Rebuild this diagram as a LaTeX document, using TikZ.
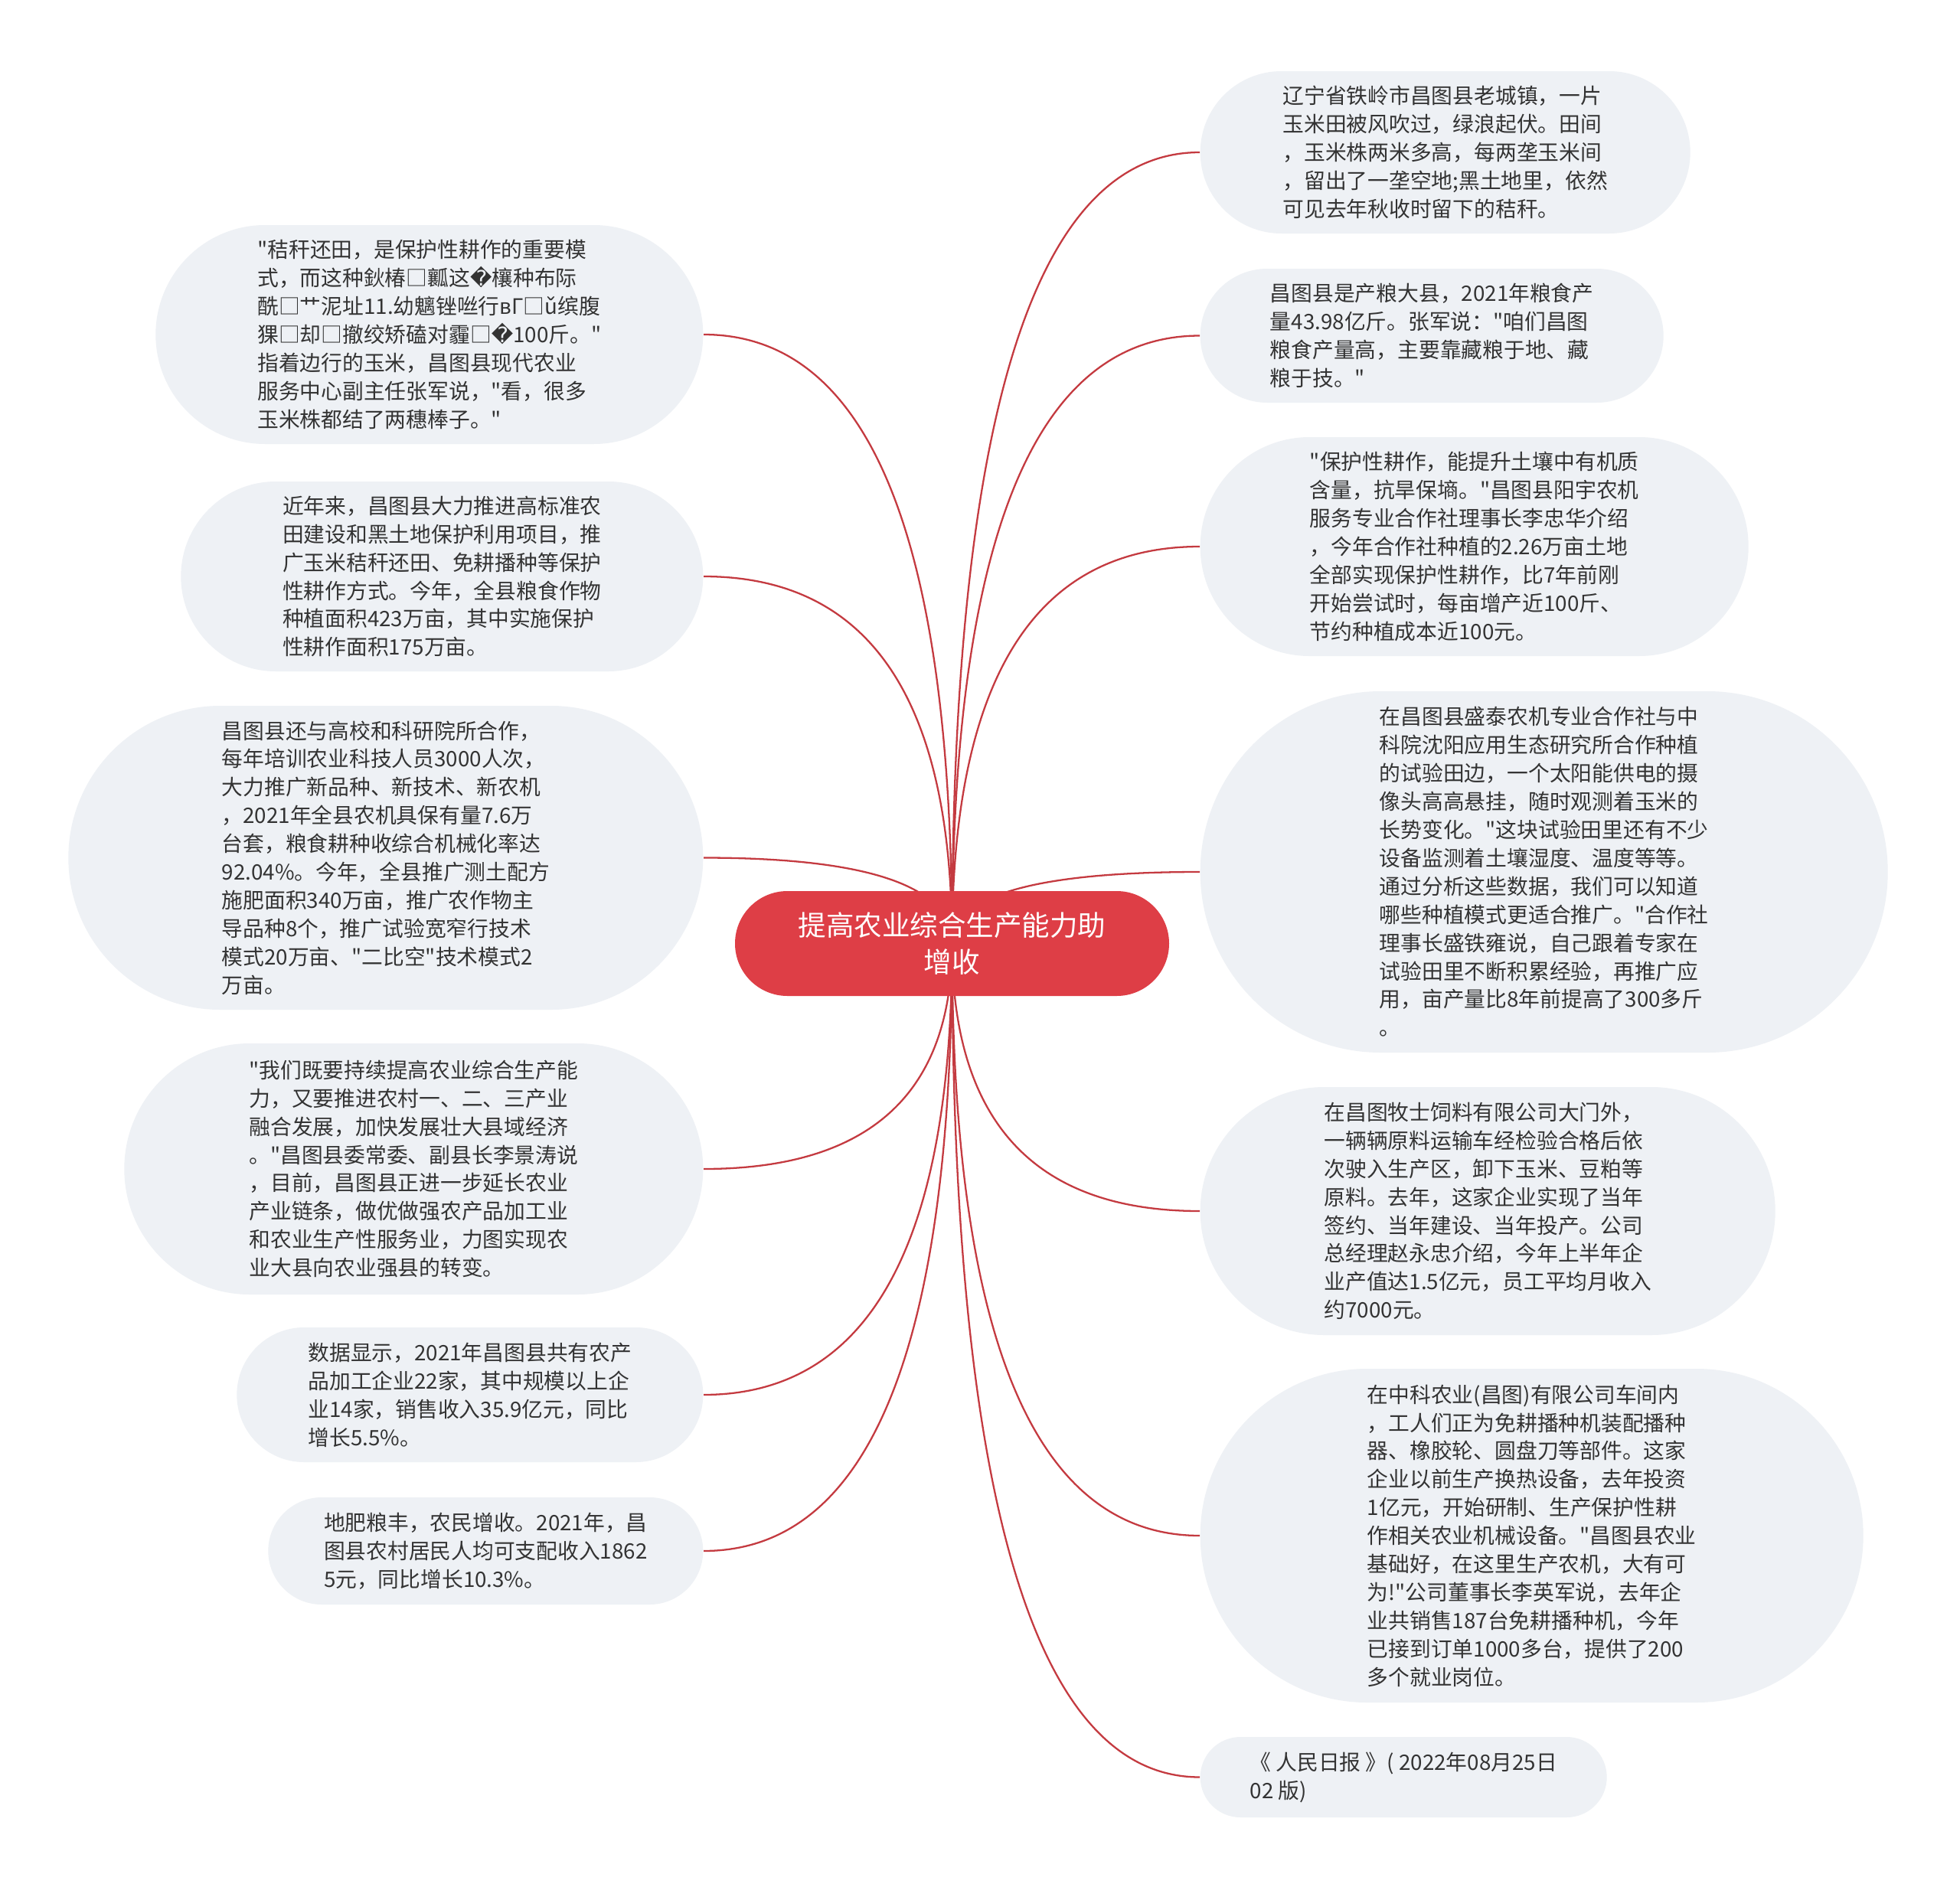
\documentclass[tikz,border=0pt]{standalone}
\usepackage{fontspec}
\newfontfamily\cjk{Noto Sans CJK SC}
\newfontfamily\symfont{DejaVu Sans}
\usepackage{xcolor}
\definecolor{hubred}{RGB}{222,62,70}
\definecolor{linkred}{RGB}{196,58,64}
\definecolor{leafbg}{RGB}{238,241,245}
\definecolor{leaftext}{RGB}{51,51,51}
\usetikzlibrary{shapes.misc,backgrounds,calc}

\begin{document}
\begin{tikzpicture}[
  hub/.style={rounded rectangle,fill=hubred,text=white,inner sep=0pt,align=center,font=\cjk\fontsize{10.4}{13.9}\selectfont},
  leaf/.style={rounded rectangle,fill=leafbg,text=leaftext,inner sep=0pt,align=left,font=\cjk\fontsize{7.9}{10.5}\selectfont},
  rleaf/.style={leaf,anchor=west},
  lleaf/.style={leaf,anchor=east},
  link/.style={linkred,line width=0.65pt}
]
  \useasboundingbox (0,0) rectangle (25.6,-24.65);

  % Centre
  \node[hub,minimum width=5.67cm,minimum height=1.37cm] (hub) at (12.435,-12.325) {提高农业综合生产能力助\\增收};

  % Right branch
  \node[rleaf,minimum width=6.40cm,minimum height=2.12cm] (r1) at (15.67,-1.99) {辽宁省铁岭市昌图县老城镇，一片\\玉米田被风吹过，绿浪起伏。田间\\，玉米株两米多高，每两垄玉米间\\，留出了一垄空地;黑土地里，依然\\可见去年秋收时留下的秸秆。};
  \node[rleaf,minimum width=6.05cm,minimum height=1.75cm] (r2) at (15.67,-4.385) {昌图县是产粮大县，2021年粮食产\\量43.98亿斤。张军说："咱们昌图\\粮食产量高，主要靠藏粮于地、藏\\粮于技。"};
  \node[rleaf,minimum width=7.16cm,minimum height=2.86cm] (r3) at (15.67,-7.14) {"保护性耕作，能提升土壤中有机质\\含量，抗旱保墒。"昌图县阳宇农机\\服务专业合作社理事长李忠华介绍\\，今年合作社种植的2.26万亩土地\\全部实现保护性耕作，比7年前刚\\开始尝试时，每亩增产近100斤、\\节约种植成本近100元。};
  \node[rleaf,minimum width=8.98cm,minimum height=4.72cm] (r4) at (15.67,-11.39) {在昌图县盛泰农机专业合作社与中\\科院沈阳应用生态研究所合作种植\\的试验田边，一个太阳能供电的摄\\像头高高悬挂，随时观测着玉米的\\长势变化。"这块试验田里还有不少\\设备监测着土壤湿度、温度等等。\\通过分析这些数据，我们可以知道\\哪些种植模式更适合推广。"合作社\\理事长盛铁雍说，自己跟着专家在\\试验田里不断积累经验，再推广应\\用，亩产量比8年前提高了300多斤\\。};
  \node[rleaf,minimum width=7.51cm,minimum height=3.24cm] (r5) at (15.67,-15.82) {在昌图牧士饲料有限公司大门外，\\一辆辆原料运输车经检验合格后依\\次驶入生产区，卸下玉米、豆粕等\\原料。去年，这家企业实现了当年\\签约、当年建设、当年投产。公司\\总经理赵永忠介绍，今年上半年企\\业产值达1.5亿元，员工平均月收入\\约7000元。};
  \node[rleaf,minimum width=8.66cm,minimum height=4.36cm] (r6) at (15.67,-20.06) {在中科农业(昌图)有限公司车间内\\，工人们正为免耕播种机装配播种\\器、橡胶轮、圆盘刀等部件。这家\\企业以前生产换热设备，去年投资\\1亿元，开始研制、生产保护性耕\\作相关农业机械设备。"昌图县农业\\基础好，在这里生产农机，大有可\\为!"公司董事长李英军说，去年企\\业共销售187台免耕播种机，今年\\已接到订单1000多台，提供了200\\多个就业岗位。};
  \node[rleaf,minimum width=5.31cm,minimum height=1.05cm] (r7) at (15.67,-23.215) {《 人民日报 》( 2022年08月25日\\02 版)};

  % Left branch
  \node[lleaf,minimum width=7.15cm,minimum height=2.86cm] (l1) at (9.19,-4.37) {"秸秆还田，是保护性耕作的重要模\\式，而这种鈥椿□瓤这{\symfont �}欀种布际\\酰□艹泥址11.幼魑锉咝行вΓ□ǔ缤腹\\猓□却□撤绞矫磕对霾□{\symfont �}100斤。"\\指着边行的玉米，昌图县现代农业\\服务中心副主任张军说，"看，很多\\玉米株都结了两穗棒子。"};
  \node[lleaf,minimum width=6.82cm,minimum height=2.48cm] (l2) at (9.19,-7.53) {近年来，昌图县大力推进高标准农\\田建设和黑土地保护利用项目，推\\广玉米秸秆还田、免耕播种等保护\\性耕作方式。今年，全县粮食作物\\种植面积423万亩，其中实施保护\\性耕作面积175万亩。};
  \node[lleaf,minimum width=8.29cm,minimum height=3.97cm] (l3) at (9.19,-11.205) {昌图县还与高校和科研院所合作，\\每年培训农业科技人员3000人次，\\大力推广新品种、新技术、新农机\\，2021年全县农机具保有量7.6万\\台套，粮食耕种收综合机械化率达\\92.04\%。今年，全县推广测土配方\\施肥面积340万亩，推广农作物主\\导品种8个，推广试验宽窄行技术\\模式20万亩、"二比空"技术模式2\\万亩。};
  \node[lleaf,minimum width=7.56cm,minimum height=3.28cm] (l4) at (9.19,-15.27) {"我们既要持续提高农业综合生产能\\力，又要推进农村一、二、三产业\\融合发展，加快发展壮大县域经济\\。"昌图县委常委、副县长李景涛说\\，目前，昌图县正进一步延长农业\\产业链条，做优做强农产品加工业\\和农业生产性服务业，力图实现农\\业大县向农业强县的转变。};
  \node[lleaf,minimum width=6.09cm,minimum height=1.76cm] (l5) at (9.19,-18.22) {数据显示，2021年昌图县共有农产\\品加工企业22家，其中规模以上企\\业14家，销售收入35.9亿元，同比\\增长5.5\%。};
  \node[lleaf,minimum width=5.68cm,minimum height=1.40cm] (l6) at (9.19,-20.26) {地肥粮丰，农民增收。2021年，昌\\图县农村居民人均可支配收入1862\\5元，同比增长10.3\%。};

  % Links
  \begin{scope}[on background layer]
    \fill[white] (0,0) rectangle (25.6,-24.65);
    \foreach \n in {r1,r2,r3,r4,r5,r6,r7}
      \draw[link] (hub.center) .. controls ($(hub.center)!2/3!(hub.center |- \n.west)$) and ($(\n.west)!2/3!(hub.center |- \n.west)$) .. (\n.west);
    \foreach \n in {l1,l2,l3,l4,l5,l6}
      \draw[link] (hub.center) .. controls ($(hub.center)!2/3!(hub.center |- \n.east)$) and ($(\n.east)!2/3!(hub.center |- \n.east)$) .. (\n.east);
  \end{scope}
\end{tikzpicture}
\end{document}
